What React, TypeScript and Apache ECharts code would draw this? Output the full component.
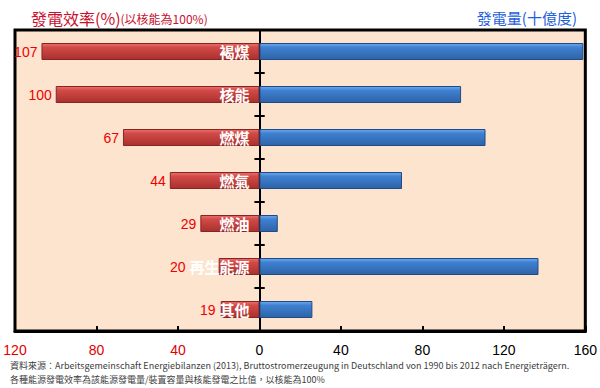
import React, { useEffect, useRef } from "react";
import * as echarts from "echarts";

const categories = ["褐煤", "核能", "燃煤", "燃氣", "燃油", "再生能源", "其他"];
const efficiency = [107, 100, 67, 44, 29, 20, 19];
const generation = [159, 99, 111, 70, 9, 137, 26];
const xTicks = { min: -120, max: 160, interval: 40 };

const CJK = '"Noto Sans CJK TC", "Noto Sans", sans-serif';
const NUM = '"Liberation Sans", Arial, sans-serif';

const GRID = { left: 15, right: 14, top: 30, bottom: 57 };
const W = 600;
const CAT_FONT = 15;
const CAT_DIST = 10;

export default function App() {
  const ref = useRef<HTMLDivElement>(null);
  useEffect(() => {
    document.body.style.margin = "0";
    const chart = echarts.init(ref.current!, undefined, { renderer: "svg" });
    const pxPerUnit = (W - GRID.left - GRID.right) / (xTicks.max - xTicks.min);
    const redGrad = new echarts.graphic.LinearGradient(0, 0, 0, 1, [
      { offset: 0, color: "#E8706C" },
      { offset: 0.25, color: "#D24A47" },
      { offset: 1, color: "#A8302E" },
    ]);
    const blueGrad = new echarts.graphic.LinearGradient(0, 0, 0, 1, [
      { offset: 0, color: "#6AAAF0" },
      { offset: 0.25, color: "#3F80D0" },
      { offset: 1, color: "#2D63A8" },
    ]);
    const redData = efficiency.map((v, i) => {
      const barPx = v * pxPerUnit;
      const textPx = categories[i].length * CAT_FONT + CAT_DIST;
      const shift = Math.min(0, barPx - textPx);
      return { value: -v, label: { offset: [shift, 0] } };
    });
    const axisTickStyle = { color: "#000", width: 2 };
    chart.setOption({
      animation: false,
      title: [
        {
          text: "{a|發電效率(%)}{b|(以核能為100%)}",
          left: 26,
          top: 5,
          textStyle: {
            rich: {
              a: { fontSize: 16, color: "#C8102E", fontFamily: CJK, fontWeight: "normal" },
              b: { fontSize: 12, color: "#C8102E", fontFamily: CJK, fontWeight: "normal" },
            },
          },
        },
        {
          text: "發電量(十億度)",
          right: 18,
          top: 5,
          textStyle: { fontSize: 15, color: "#1F5FD8", fontWeight: "normal", fontFamily: CJK },
        },
      ],
      grid: [
        {
          ...GRID,
          show: true,
          backgroundColor: "#FCE4CF",
          borderColor: "#000",
          borderWidth: 3,
        },
        { ...GRID, show: false },
      ],
      xAxis: [
        {
          type: "value",
          gridIndex: 0,
          min: xTicks.min,
          max: xTicks.max,
          interval: xTicks.interval,
          splitLine: { show: false },
          axisLine: { show: true, lineStyle: { color: "#000", width: 3 } },
          axisTick: { show: true, inside: true, length: 5, lineStyle: axisTickStyle },
          axisLabel: {
            margin: 12,
            fontSize: 14,
            fontFamily: NUM,
            color: (v: number) => (v < 0 ? "#E00000" : "#000"),
            formatter: (v: number) => String(Math.abs(v)),
          },
        },
        {
          type: "value",
          gridIndex: 1,
          min: xTicks.min,
          max: xTicks.max,
          interval: xTicks.interval,
          show: false,
        },
      ],
      yAxis: [
        {
          type: "category",
          gridIndex: 0,
          data: categories,
          inverse: true,
          axisLine: { onZero: true, lineStyle: { color: "#000", width: 2 } },
          axisTick: { show: true, inside: false, length: 5, lineStyle: axisTickStyle },
          axisLabel: { show: false },
        },
        {
          type: "category",
          gridIndex: 1,
          data: categories,
          inverse: true,
          axisLine: { onZero: true, show: false },
          axisTick: { show: true, inside: true, length: 5, lineStyle: axisTickStyle },
          axisLabel: { show: false },
        },
      ],
      series: [
        {
          type: "bar",
          name: "效率",
          xAxisIndex: 0,
          yAxisIndex: 0,
          data: redData,
          barWidth: 17,
          barGap: "-100%",
          itemStyle: { color: redGrad, borderColor: "#8A2422", borderWidth: 1 },
          label: {
            show: true,
            position: "left",
            distance: 4,
            color: "#F00000",
            fontSize: 14,
            fontFamily: NUM,
            formatter: (p: any) => String(Math.abs(p.value)),
          },
        },
        {
          type: "bar",
          name: "發電量",
          xAxisIndex: 0,
          yAxisIndex: 0,
          data: generation,
          barWidth: 17,
          itemStyle: { color: blueGrad, borderColor: "#1F4A85", borderWidth: 1 },
          label: {
            show: true,
            position: "left",
            distance: CAT_DIST,
            color: "#fff",
            fontSize: CAT_FONT,
            fontWeight: "bold",
            fontFamily: CJK,
            formatter: "{b}",
          },
        },
      ],
      graphic: [
        {
          type: "text",
          left: 10,
          top: 361,
          style: {
            text: "資料來源：Arbeitsgemeinschaft Energiebilanzen (2013), Bruttostromerzeugung in Deutschland von 1990 bis 2012 nach Energieträgern.",
            fontSize: 9,
            fill: "#404040",
            fontFamily: CJK,
          },
        },
        {
          type: "text",
          left: 10,
          top: 375,
          style: {
            text: "各種能源發電效率為該能源發電量/裝置容量與核能發電之比值，以核能為100%",
            fontSize: 9,
            fill: "#404040",
            fontFamily: CJK,
          },
        },
      ],
    });
    return () => chart.dispose();
  }, []);
  return (
    <div
      ref={ref}
      style={{ position: "absolute", left: 0, top: 0, width: 600, height: 388, background: "#fff" }}
    />
  );
}
